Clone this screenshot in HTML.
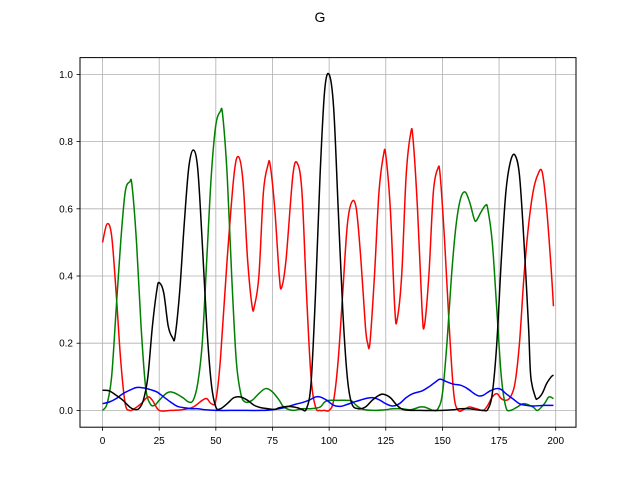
<!DOCTYPE html>
<html><head><meta charset="utf-8"><style>
body{margin:0;background:#fff}
svg{font-family:"Liberation Sans","DejaVu Sans",sans-serif}
</style></head><body>
<svg id="chart" width="640" height="480" xmlns="http://www.w3.org/2000/svg">
<rect width="640" height="480" fill="#fff"/>
<text x="320" y="22" text-anchor="middle" font-size="14">G</text>
<g id="grid"></g>
<g id="series"></g>
<rect x="80" y="57.6" width="496" height="369.6" fill="none" stroke="#000" stroke-width="1"/>
<g id="ticks"></g>
</svg>
<script>
const xTicks=[0,25,50,75,100,125,150,175,200];
const yTicks=[0,0.2,0.4,0.6,0.8,1.0];
const yTickLabels=["0.0","0.2","0.4","0.6","0.8","1.0"];
const redX=[0,2,4,6,8,10,12,14,17,20,22,25,30,35,40,44,46,48,50,52,55,58,60,62,64,66,67,69,71,73,74,76,78,79,81,84,86,88,90,92,94,96,98,100,102,104,106,108,110,112,114,116,117,118,120,122,124,125,127,129,130,132,134,136,137,139,141,142,144,146,148,149,151,153,155,157,160,162,165,168,170,172,174,176,178,180,182,184,186,188,190,192,194,196,198,199];
const redY=[0.50,0.555,0.52,0.35,0.15,0.02,0.0,0.005,0.02,0.04,0.03,0.0,0.0,0.002,0.01,0.03,0.035,0.02,0.03,0.15,0.45,0.7,0.755,0.68,0.45,0.31,0.31,0.4,0.65,0.73,0.73,0.6,0.4,0.365,0.45,0.7,0.735,0.65,0.35,0.1,0.01,0.0,0.0,0.0,0.03,0.15,0.35,0.55,0.62,0.6,0.45,0.25,0.2,0.2,0.4,0.65,0.76,0.76,0.6,0.3,0.27,0.4,0.7,0.825,0.81,0.6,0.3,0.25,0.4,0.65,0.72,0.7,0.5,0.25,0.05,0.0,0.005,0.01,0.005,0.0,0.015,0.04,0.05,0.035,0.03,0.04,0.08,0.2,0.4,0.55,0.65,0.7,0.71,0.6,0.42,0.31];
const greenX=[0,2,4,6,8,10,12,13,15,17,19,21,23,25,28,30,33,36,38,40,42,44,46,48,50,52,53,55,57,59,61,63,66,69,72,75,78,80,84,88,92,96,98,100,104,108,110,112,115,120,125,128,132,136,140,142,144,146,148,150,152,154,156,158,160,162,164,165,167,169,170,172,174,176,178,180,183,186,190,192,195,197,199];
const greenY=[0.0,0.02,0.1,0.3,0.5,0.65,0.68,0.67,0.5,0.25,0.07,0.02,0.015,0.03,0.05,0.055,0.048,0.035,0.025,0.03,0.08,0.2,0.45,0.7,0.85,0.89,0.88,0.7,0.4,0.15,0.05,0.025,0.03,0.05,0.065,0.055,0.03,0.01,0.0,0.005,0.005,0.01,0.025,0.03,0.03,0.03,0.028,0.015,0.003,0.0,0.002,0.005,0.005,0.002,0.01,0.01,0.005,0.0,0.005,0.05,0.2,0.4,0.55,0.63,0.65,0.62,0.57,0.565,0.59,0.61,0.6,0.5,0.3,0.1,0.01,0.0,0.01,0.02,0.01,0.0,0.02,0.04,0.035];
const blackX=[0,3,6,9,12,14,16,18,20,22,24,25,27,29,31,32,34,36,38,40,42,44,46,48,50,52,55,58,61,64,67,70,73,76,78,82,86,88,90,92,94,96,98,100,102,104,106,108,110,113,116,119,122,124,127,130,133,140,150,155,158,162,165,168,170,172,174,176,178,180,182,184,186,188,189,191,192,194,196,198,199];
const blackY=[0.06,0.058,0.045,0.03,0.01,0.003,0.005,0.03,0.1,0.25,0.36,0.38,0.35,0.25,0.215,0.22,0.35,0.55,0.72,0.775,0.72,0.5,0.25,0.08,0.01,0.005,0.02,0.038,0.04,0.03,0.015,0.008,0.005,0.003,0.008,0.012,0.008,0.003,0.005,0.08,0.35,0.7,0.95,1.0,0.9,0.6,0.3,0.1,0.02,0.005,0.01,0.03,0.045,0.048,0.038,0.015,0.002,0.0,0.0,0.002,0.005,0.005,0.002,0.0,0.003,0.05,0.2,0.45,0.65,0.74,0.76,0.7,0.5,0.25,0.1,0.04,0.035,0.05,0.08,0.1,0.105];
const blueX=[0,3,6,9,12,15,18,21,24,27,30,33,36,39,42,45,50,60,70,75,80,85,88,91,94,96,99,102,105,108,112,116,119,122,125,128,131,134,137,141,144,147,149,152,155,158,161,164,166,168,171,174,176,178,181,184,187,190,195,199];
const blueY=[0.02,0.025,0.035,0.05,0.06,0.068,0.067,0.062,0.055,0.04,0.025,0.012,0.008,0.005,0.005,0.002,0.0,0.0,0.0,0.002,0.008,0.018,0.023,0.03,0.04,0.04,0.03,0.015,0.012,0.018,0.027,0.035,0.038,0.032,0.02,0.013,0.02,0.038,0.05,0.058,0.07,0.085,0.093,0.085,0.078,0.075,0.065,0.05,0.043,0.045,0.058,0.065,0.062,0.05,0.035,0.02,0.015,0.013,0.015,0.015];

const L=80,R=576,T=57.6,B=427.2;
const xmin=-9.95,xmax=208.95,ymin=-0.05,ymax=1.05;
const sx=v=>L+(v-xmin)/(xmax-xmin)*(R-L);
const sy=v=>B-(v-ymin)/(ymax-ymin)*(B-T);
const NS="http://www.w3.org/2000/svg";
const grid=document.getElementById('grid'),ticks=document.getElementById('ticks'),ser=document.getElementById('series');
function mk(tag,attrs,parent){const e=document.createElementNS(NS,tag);for(const k in attrs)e.setAttribute(k,attrs[k]);parent.appendChild(e);return e;}
xTicks.forEach(t=>{
  const x=sx(t);
  const g=mk('line',{x1:x,x2:x,y1:T,y2:B,stroke:'#b0b0b0','stroke-width':0.8},grid);
  
  
  const tk=mk('line',{x1:x,x2:x,y1:B,y2:B+3.5,stroke:'#000','stroke-width':0.8},ticks);
  
  
  const lb=mk('text',{x:x,y:B+17,'text-anchor':'middle','font-size':10},ticks);
  lb.textContent=String(t);
  
  
});
yTicks.forEach((t,i)=>{
  const y=sy(t);
  const g=mk('line',{x1:L,x2:R,y1:y,y2:y,stroke:'#b0b0b0','stroke-width':0.8},grid);
  
  
  const tk=mk('line',{x1:L-3.5,x2:L,y1:y,y2:y,stroke:'#000','stroke-width':0.8},ticks);
  
  
  const lb=mk('text',{x:L-7,y:y+3.5,'text-anchor':'end','font-size':10},ticks);
  lb.textContent=yTickLabels[i];
  
  
});
function path(xs,ys){
  const p=xs.map((x,i)=>[sx(x),sy(ys[i])]);
  let d='M'+p[0][0].toFixed(2)+','+p[0][1].toFixed(2);
  for(let i=0;i<p.length-1;i++){
    const p0=p[Math.max(0,i-1)],p1=p[i],p2=p[i+1],p3=p[Math.min(p.length-1,i+2)];
    const c1=[p1[0]+(p2[0]-p0[0])/6,p1[1]+(p2[1]-p0[1])/6];
    const c2=[p2[0]-(p3[0]-p1[0])/6,p2[1]-(p3[1]-p1[1])/6];
    d+=' C'+c1.map(v=>v.toFixed(2))+' '+c2.map(v=>v.toFixed(2))+' '+p2[0].toFixed(2)+','+p2[1].toFixed(2);
  }
  return d;
}
[[redX,redY,'red','series-red'],[greenX,greenY,'green','series-green'],[blueX,blueY,'blue','series-blue'],[blackX,blackY,'black','series-black']].forEach(s=>{
  const e=mk('path',{d:path(s[0],s[1]),fill:'none',stroke:s[2],'stroke-width':1.5,'stroke-linejoin':'round'},ser);
  
  
});
</script>
</body></html>
